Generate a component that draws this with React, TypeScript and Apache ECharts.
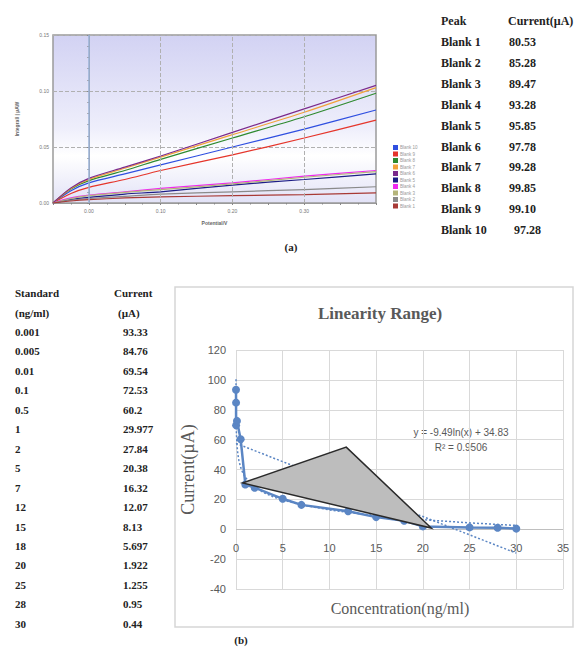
import React, { useEffect, useRef } from 'react';
import * as echarts from 'echarts';

// ---------- Panel (a) data ----------
const potentialV = [-0.05, -0.025, 0, 0.05, 0.1, 0.2, 0.3, 0.4];
const blankNames = ['Blank 10', 'Blank 9', 'Blank 8', 'Blank 7', 'Blank 6', 'Blank 5', 'Blank 4', 'Blank 3', 'Blank 2', 'Blank 1'];
const blankColors = ['#2f4fe0', '#e5352b', '#2f8a2f', '#f2a23a', '#7b2a8c', '#1d1d86', '#f02af0', '#b4b47a', '#8a8a8a', '#a83a36'];
const blank10 = [0, 0.011, 0.018, 0.026, 0.034, 0.050, 0.066, 0.083];
const blank9 = [0, 0.0085, 0.014, 0.021, 0.029, 0.043, 0.058, 0.074];
const blank8 = [0, 0.0125, 0.020, 0.029, 0.039, 0.058, 0.077, 0.098];
const blank7 = [0, 0.013, 0.021, 0.031, 0.041, 0.061, 0.081, 0.103];
const blank6 = [0, 0.0135, 0.022, 0.032, 0.042, 0.063, 0.084, 0.105];
const blank5 = [0, 0.003, 0.005, 0.008, 0.010, 0.016, 0.021, 0.026];
const blank4 = [0, 0.0045, 0.007, 0.010, 0.013, 0.018, 0.024, 0.029];
const blank3 = [0, 0.004, 0.0065, 0.0095, 0.012, 0.017, 0.023, 0.028];
const blank2 = [0, 0.0025, 0.004, 0.006, 0.008, 0.010, 0.012, 0.0145];
const blank1 = [0, 0.0018, 0.003, 0.0045, 0.0055, 0.0065, 0.0075, 0.009];
const blankCurves = [blank10, blank9, blank8, blank7, blank6, blank5, blank4, blank3, blank2, blank1];
const potentialGridLines = [0.1, 0.2, 0.3];

// Peak table
const peakLabels = ['Blank 1', 'Blank 2', 'Blank 3', 'Blank 4', 'Blank 5', 'Blank 6', 'Blank 7', 'Blank 8', 'Blank 9', 'Blank 10'];
const peakCurrents = [80.53, 85.28, 89.47, 93.28, 95.85, 97.78, 99.28, 99.85, 99.10, 97.28];

// ---------- Panel (b) data ----------
const concentration = [0.001, 0.005, 0.01, 0.1, 0.5, 1, 2, 5, 7, 12, 15, 18, 20, 25, 28, 30];
const current = [93.33, 84.76, 69.54, 72.53, 60.2, 29.977, 27.84, 20.38, 16.32, 12.07, 8.13, 5.697, 1.922, 1.255, 0.95, 0.44];
const logTrendA = -9.49;
const logTrendB = 34.83;
const rSquared = 0.9506;
const logTrendX = [0.001, 0.002, 0.005, 0.01, 0.02, 0.05, 0.1, 0.2, 0.3, 0.5, 0.7, 1, 1.5, 2, 3, 4, 5, 7, 10, 12, 15, 18, 20, 25, 28, 30];
const linearTrend = [[0, 57.5], [30, -16]];
const triangle = [[0.7, 31], [11.8, 55], [20.9, 0.8]];

const serifBold = 'bold 12px "Liberation Serif", "Times New Roman", serif';
const serifBoldS = 'bold 11px "Liberation Serif", "Times New Roman", serif';

export default function App() {
  const ref = useRef<HTMLDivElement>(null);
  useEffect(() => {
    if (!ref.current) return;
    const chart = echarts.init(ref.current, undefined, { renderer: 'svg' });

    const graphics: any[] = [];
    // Border of panel (b)
    graphics.push({
      type: 'rect', shape: { x: 175, y: 287, width: 398, height: 340 },
      style: { fill: 'none', stroke: '#d6d6d6', lineWidth: 1.5 }, z: -1,
    });
    // Table (a)
    graphics.push({ type: 'text', style: { text: 'Peak', x: 441, y: 21, font: serifBold, fill: '#222', verticalAlign: 'middle' } });
    graphics.push({ type: 'text', style: { text: 'Current(µA)', x: 508, y: 21, font: serifBold, fill: '#222', verticalAlign: 'middle' } });
    peakLabels.forEach((lab, i) => {
      const y = 42 + 20.9 * i;
      graphics.push({ type: 'text', style: { text: lab, x: 441, y, font: serifBold, fill: '#222', verticalAlign: 'middle' } });
      graphics.push({ type: 'text', style: { text: peakCurrents[i].toFixed(2), x: i === 9 ? 514 : 509, y, font: serifBold, fill: '#222', verticalAlign: 'middle' } });
    });
    // Table (b)
    graphics.push({ type: 'text', style: { text: 'Standard', x: 15, y: 293, font: serifBoldS, fill: '#222', verticalAlign: 'middle' } });
    graphics.push({ type: 'text', style: { text: '(ng/ml)', x: 15, y: 313, font: serifBoldS, fill: '#222', verticalAlign: 'middle' } });
    graphics.push({ type: 'text', style: { text: 'Current', x: 114, y: 293, font: serifBoldS, fill: '#222', verticalAlign: 'middle' } });
    graphics.push({ type: 'text', style: { text: '(µA)', x: 118, y: 313, font: serifBoldS, fill: '#222', verticalAlign: 'middle' } });
    concentration.forEach((c, i) => {
      const y = 332 + 19.45 * i;
      graphics.push({ type: 'text', style: { text: String(c), x: 15, y, font: serifBoldS, fill: '#222', verticalAlign: 'middle' } });
      graphics.push({ type: 'text', style: { text: String(current[i]), x: 123, y, font: serifBoldS, fill: '#222', verticalAlign: 'middle' } });
    });
    // Captions
    graphics.push({ type: 'text', style: { text: '(a)', x: 291, y: 247, font: serifBoldS, fill: '#222', align: 'center', verticalAlign: 'middle' } });
    graphics.push({ type: 'text', style: { text: '(b)', x: 241, y: 640, font: serifBoldS, fill: '#222', align: 'center', verticalAlign: 'middle' } });
    // Axis title (b)
    graphics.push({ type: 'text', style: { text: 'Concentration(ng/ml)', x: 400, y: 608, font: '16px "Liberation Serif", serif', fill: '#595959', align: 'center', verticalAlign: 'middle' } });
    // Trend equation
    graphics.push({ type: 'text', style: { text: `y = ${logTrendA}ln(x) + ${logTrendB}`, x: 461, y: 432, font: '10px "Liberation Sans Narrow", "Arial Narrow", sans-serif', fill: '#595959', align: 'center', verticalAlign: 'middle' } });
    graphics.push({ type: 'text', style: { text: `R² = ${rSquared}`, x: 461, y: 447, font: '10px "Liberation Sans Narrow", "Arial Narrow", sans-serif', fill: '#595959', align: 'center', verticalAlign: 'middle' } });

    const tinyFont = { fontSize: 5, color: '#777', fontFamily: 'Arial, sans-serif' };

    const blankSeries = blankNames.map((name, k) => ({
      name,
      type: 'line',
      xAxisIndex: 0, yAxisIndex: 0,
      data: potentialV.map((x, i) => [x, blankCurves[k][i]]),
      smooth: 0.3,
      showSymbol: false,
      lineStyle: { color: blankColors[k], width: 1.2 },
      itemStyle: { color: blankColors[k] },
      z: 3,
      ...(k === 0
        ? {
            markLine: {
              silent: true, symbol: 'none', label: { show: false },
              lineStyle: { color: '#b0b0b0', type: 'dashed', width: 1 },
              data: [
                { xAxis: 0, lineStyle: { color: '#98b0d6', type: 'solid', width: 1.5 } },
                ...potentialGridLines.map((v) => ({ xAxis: v })),
              ],
            },
          }
        : {}),
    }));

    const option: any = {
      animation: false,
      backgroundColor: '#fff',
      legend: {
        data: blankNames,
        orient: 'vertical',
        left: 393, top: 145,
        itemWidth: 5, itemHeight: 5, itemGap: 1.5,
        icon: 'rect',
        textStyle: { fontSize: 4.5, color: '#999', padding: [0, 0, 0, -3] },
        padding: 0,
      },
      grid: [
        {
          left: 53, top: 35, width: 323, height: 168, show: true, outerBoundsMode: 'none',
          borderColor: '#9a9a9a', borderWidth: 1.5,
          backgroundColor: new echarts.graphic.LinearGradient(0, 0, 0, 1, [
            { offset: 0, color: '#d2d2f3' },
            { offset: 0.55, color: '#eeeefb' },
            { offset: 0.72, color: '#ffffff' },
            { offset: 1, color: '#e2e2f7' },
          ]),
        },
        { left: 236, top: 350, width: 327, height: 239, outerBoundsMode: 'none' },
      ],
      xAxis: [
        {
          gridIndex: 0, type: 'value', min: -0.05, max: 0.4, interval: 0.05,
          name: 'Potential/V', nameLocation: 'middle', nameGap: 17,
          nameTextStyle: { fontSize: 5, fontWeight: 'bold', color: '#666' },
          axisLine: { show: true, onZero: false, lineStyle: { color: '#9a9a9a' } },
          axisTick: { show: true, length: 2, lineStyle: { color: '#888' } },
          minorTick: { show: true, splitNumber: 2, length: 1.5, lineStyle: { color: '#888' } },
          axisLabel: {
            ...tinyFont, margin: 5,
            formatter: (v: number) => {
              const r = Math.round(v * 100);
              return r >= 0 && r <= 30 && r % 10 === 0 ? v.toFixed(2) : '';
            },
          },
          splitLine: { show: false },
        },
        {
          gridIndex: 1, type: 'value', min: 0, max: 35, interval: 5,
          axisLine: { show: false, onZero: false },
          axisTick: { show: false },
          axisLabel: { fontSize: 11, color: '#595959', fontFamily: '"Liberation Sans Narrow", "Arial Narrow", sans-serif', margin: -47 },
          splitLine: { show: true, lineStyle: { color: '#d9d9d9', width: 1 } },
        },
      ],
      yAxis: [
        {
          gridIndex: 0, type: 'value', min: 0, max: 0.15, interval: 0.05,
          name: 'Integral/ | µAW', nameLocation: 'middle', nameGap: 34, nameRotate: 90,
          nameTextStyle: { fontSize: 5, fontWeight: 'bold', color: '#666' },
          axisLine: { show: true, lineStyle: { color: '#9a9a9a' } },
          axisTick: { show: true, length: 2, lineStyle: { color: '#888' } },
          minorTick: { show: true, splitNumber: 5, length: 1.5, lineStyle: { color: '#888' } },
          axisLabel: { ...tinyFont, margin: 4, formatter: (v: number) => v.toFixed(2) },
          splitLine: { show: true, lineStyle: { color: '#b0b0b0', type: 'dashed' } },
        },
        {
          gridIndex: 1, type: 'value', min: -40, max: 120, interval: 20,
          name: 'Current(µA)', nameLocation: 'middle', nameGap: 38, nameRotate: 90,
          nameTextStyle: { fontSize: 18, color: '#595959', fontFamily: '"Liberation Serif", serif' },
          axisLine: { show: false },
          axisTick: { show: false },
          axisLabel: { fontSize: 11, color: '#595959', fontFamily: '"Liberation Sans Narrow", "Arial Narrow", sans-serif', margin: 10 },
          splitLine: { show: true, lineStyle: { color: '#d9d9d9', width: 1 } },
        },
      ],
      series: [
        ...blankSeries,
        {
          name: 'Current', type: 'line', xAxisIndex: 1, yAxisIndex: 1,
          data: concentration.map((c, i) => [c, current[i]]),
          symbol: 'circle', symbolSize: 8,
          lineStyle: { color: '#5b86c4', width: 2.5 },
          itemStyle: { color: '#5b86c4' },
          z: 3,
          markLine: {
            silent: true, symbol: 'none', label: { show: false },
            lineStyle: { color: '#bfbfbf', type: 'solid', width: 1 },
            data: [{ yAxis: 0 }],
            z: 1,
          },
        },
        {
          name: 'Log trend', type: 'line', xAxisIndex: 1, yAxisIndex: 1,
          data: logTrendX.map((x) => [x, logTrendA * Math.log(x) + logTrendB]),
          showSymbol: false, smooth: false,
          lineStyle: { color: '#5b86c4', width: 1.5, type: [2, 2] },
          z: 4,
        },
        {
          name: 'Linear trend', type: 'line', xAxisIndex: 1, yAxisIndex: 1,
          data: linearTrend,
          showSymbol: false,
          lineStyle: { color: '#5b86c4', width: 1.5, type: [2, 2] },
          z: 4,
        },
        {
          name: 'Triangle', type: 'custom', xAxisIndex: 1, yAxisIndex: 1,
          data: [triangle[0]],
          z: 10,
          renderItem: (params: any, api: any) => ({
            type: 'polygon',
            shape: { points: triangle.map((p) => api.coord(p)) },
            style: { fill: '#bdbdbd', stroke: '#2a2a2a', lineWidth: 1.5 },
          }),
        },
      ],
      title: {
        text: 'Linearity Range)', left: 375, top: 300, textAlign: 'center',
        textStyle: { fontSize: 17, fontWeight: 'bold', color: '#595959', fontFamily: '"Liberation Serif", serif' },
      },
      graphic: graphics,
    };
    chart.setOption(option);
    return () => chart.dispose();
  }, []);
  return <div ref={ref} style={{ position: 'absolute', left: 0, top: 0, width: 575, height: 648, background: '#fff' }} />;
}
